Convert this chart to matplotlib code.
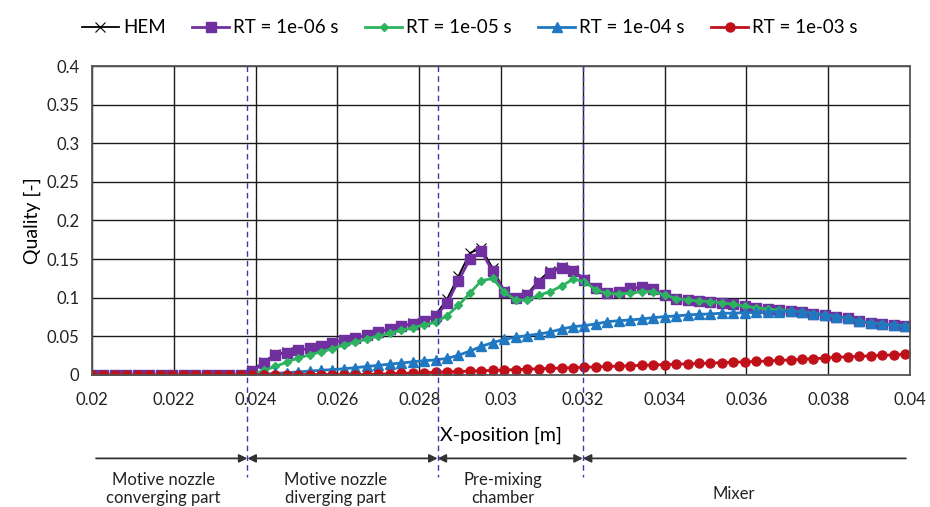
import matplotlib
matplotlib.use("Agg")
import matplotlib.pyplot as plt
import matplotlib.transforms as mtransforms

plt.rcParams['font.family'] = ['Lato', 'DejaVu Sans']

# x positions along the ejector [m]
x_pos = [0.02000, 0.02028, 0.02056, 0.02084, 0.02112, 0.02140, 0.02168, 0.02196,
         0.02224, 0.02252, 0.02280, 0.02308, 0.02336, 0.02364, 0.02392, 0.02420,
         0.02448, 0.02476, 0.02504, 0.02532, 0.02560, 0.02588, 0.02616, 0.02644,
         0.02672, 0.02700, 0.02728, 0.02756, 0.02784, 0.02812, 0.02840, 0.02868,
         0.02896, 0.02924, 0.02952, 0.02980, 0.03008, 0.03036, 0.03064, 0.03092,
         0.03120, 0.03148, 0.03176, 0.03204, 0.03232, 0.03260, 0.03288, 0.03316,
         0.03344, 0.03372, 0.03400, 0.03428, 0.03456, 0.03484, 0.03512, 0.03540,
         0.03568, 0.03596, 0.03624, 0.03652, 0.03680, 0.03708, 0.03736, 0.03764,
         0.03792, 0.03820, 0.03848, 0.03876, 0.03904, 0.03932, 0.03960, 0.03988]

q_hem = [0, 0, 0, 0, 0, 0, 0, 0, 0, 0, 0, 0, 0, 0, 0.006, 0.017,
         0.027, 0.030, 0.032, 0.035, 0.038, 0.042, 0.045, 0.048,
         0.052, 0.056, 0.060, 0.063, 0.067, 0.070, 0.078, 0.098,
         0.128, 0.158, 0.164, 0.138, 0.109, 0.100, 0.105, 0.122,
         0.135, 0.140, 0.136, 0.124, 0.112, 0.106, 0.107, 0.112,
         0.114, 0.111, 0.104, 0.099, 0.097, 0.096, 0.095, 0.0935,
         0.0915, 0.089, 0.087, 0.0855, 0.084, 0.0828, 0.0815, 0.0795,
         0.078, 0.0755, 0.0733, 0.0695, 0.0675, 0.066, 0.0645, 0.063]

q_rt6 = [0, 0, 0, 0, 0, 0, 0, 0, 0, 0, 0, 0, 0, 0, 0.005, 0.016,
         0.026, 0.029, 0.0318, 0.0345, 0.0375, 0.042, 0.045, 0.048,
         0.0515, 0.0555, 0.060, 0.063, 0.0665, 0.0695, 0.076, 0.093,
         0.122, 0.150, 0.160, 0.134, 0.108, 0.100, 0.103, 0.119,
         0.132, 0.139, 0.135, 0.123, 0.112, 0.106, 0.107, 0.112,
         0.114, 0.111, 0.104, 0.099, 0.097, 0.096, 0.095, 0.0935,
         0.0915, 0.089, 0.087, 0.0855, 0.084, 0.0828, 0.0815, 0.0795,
         0.078, 0.0755, 0.0733, 0.0695, 0.0675, 0.066, 0.0645, 0.063]

q_rt5 = [0, 0, 0, 0, 0, 0, 0, 0, 0, 0, 0, 0, 0, 0, 0, 0.006,
         0.011, 0.0165, 0.022, 0.026, 0.030, 0.034, 0.039, 0.0425,
         0.0467, 0.0505, 0.054, 0.058, 0.061, 0.065, 0.068, 0.077,
         0.090, 0.106, 0.122, 0.125, 0.107, 0.097, 0.097, 0.103,
         0.108, 0.115, 0.124, 0.121, 0.110, 0.1055, 0.105, 0.106,
         0.108, 0.108, 0.1035, 0.099, 0.097, 0.096, 0.095, 0.0935,
         0.0915, 0.089, 0.087, 0.0855, 0.084, 0.0828, 0.0815, 0.0795,
         0.078, 0.0755, 0.0733, 0.0695, 0.0675, 0.066, 0.0645, 0.063]

q_rt4 = [0, 0, 0, 0, 0, 0, 0, 0, 0, 0, 0, 0, 0, 0, 0, 0.001,
         0.002, 0.003, 0.004, 0.005, 0.006, 0.007, 0.008, 0.0095,
         0.011, 0.0125, 0.014, 0.0155, 0.017, 0.0185, 0.0195, 0.0215,
         0.0255, 0.031, 0.037, 0.042, 0.046, 0.049, 0.051, 0.053,
         0.0555, 0.0595, 0.0625, 0.064, 0.066, 0.069, 0.0703, 0.0712,
         0.0725, 0.0742, 0.0755, 0.0764, 0.0777, 0.0786, 0.079, 0.080,
         0.080, 0.0807, 0.081, 0.0815, 0.082, 0.0825, 0.0815, 0.0795,
         0.078, 0.0755, 0.0733, 0.0695, 0.0675, 0.066, 0.0645, 0.063]

q_rt3 = [0, 0, 0, 0, 0, 0, 0, 0, 0, 0, 0, 0, 0, 0, 0, 0,
         0, 0, 0.0005, 0.0005, 0.0005, 0.0005, 0.0005, 0.0005,
         0.0005, 0.001, 0.0015, 0.002, 0.0025, 0.003, 0.0035, 0.004,
         0.0045, 0.005, 0.0055, 0.006, 0.0065, 0.007, 0.0075, 0.008,
         0.0085, 0.009, 0.0095, 0.010, 0.0105, 0.011, 0.0115, 0.012,
         0.0125, 0.013, 0.0135, 0.014, 0.0145, 0.015, 0.0155, 0.016,
         0.0165, 0.017, 0.0175, 0.018, 0.019, 0.0195, 0.0205, 0.021,
         0.022, 0.023, 0.0235, 0.024, 0.025, 0.0255, 0.026, 0.027]

x_ticks = [0.02, 0.022, 0.024, 0.026, 0.028, 0.03, 0.032, 0.034, 0.036, 0.038, 0.04]
x_tick_labels = ['0.02', '0.022', '0.024', '0.026', '0.028', '0.03', '0.032',
                 '0.034', '0.036', '0.038', '0.04']
y_ticks = [0, 0.05, 0.1, 0.15, 0.2, 0.25, 0.3, 0.35, 0.4]
y_tick_labels = ['0', '0.05', '0.1', '0.15', '0.2', '0.25', '0.3', '0.35', '0.4']

# section boundaries and names
bounds = [0.02, 0.0238, 0.02845, 0.0320, 0.04]
section_names = ['Motive nozzle\nconverging part', 'Motive nozzle\ndiverging part',
                 'Pre-mixing\nchamber', 'Mixer']

fig = plt.figure(figsize=(9.3, 5.07), dpi=100)
ax = fig.add_axes([0.0989, 0.2604, 0.8796, 0.6094])

ax.plot(x_pos, q_hem, color='black', lw=1.3, marker='x', ms=7, mew=0.8, label='HEM')
ax.plot(x_pos, q_rt6, color='#7030A0', lw=2, marker='s', ms=6.5, label='RT = 1e-06 s')
ax.plot(x_pos, q_rt5, color='#2DB35F', lw=2, marker='D', ms=4, label='RT = 1e-05 s')
ax.plot(x_pos, q_rt4, color='#1F78C1', lw=2, marker='^', ms=6.5, label='RT = 1e-04 s')
ax.plot(x_pos, q_rt3, color='#C0101A', lw=2, marker='o', ms=6.5, label='RT = 1e-03 s')

ax.set_xlim(0.02, 0.04)
ax.set_ylim(0, 0.4)
ax.set_xticks(x_ticks)
ax.set_xticklabels(x_tick_labels)
ax.set_yticks(y_ticks)
ax.set_yticklabels(y_tick_labels)
ax.tick_params(length=0, labelsize=12, colors='#222222')
ax.tick_params(axis='x', pad=12)
ax.tick_params(axis='y', pad=9)
ax.grid(True, color='#1a1a1a', lw=1)
ax.set_axisbelow(True)
for s in ax.spines.values():
    s.set_color('#555555')
    s.set_linewidth(1.3)

ax.set_xlabel('X-position [m]', fontsize=14, labelpad=14)
ax.set_ylabel('Quality [-]', fontsize=14, labelpad=4)

# section boundaries as dashed lines running below the axes
trans = mtransforms.blended_transform_factory(ax.transData, ax.transAxes)
for b in bounds[1:-1]:
    ax.plot([b, b], [1, -0.33], transform=trans, color='#3A3AB0', ls=(0, (4, 3)),
            lw=1, clip_on=False, zorder=5)

# arrow line with section labels
y_arr = -0.27
arrow_props = dict(arrowstyle='-|>', color='#333333', lw=1.3, mutation_scale=12,
                   shrinkA=0, shrinkB=0)
ax.annotate('', xy=(bounds[1], y_arr), xytext=(0.0201, y_arr), xycoords=trans,
            textcoords=trans, arrowprops=arrow_props, annotation_clip=False)
for a, b in [(bounds[1], bounds[2]), (bounds[2], bounds[3])]:
    ax.annotate('', xy=(b, y_arr), xytext=(a, y_arr), xycoords=trans,
                textcoords=trans, arrowprops=dict(arrow_props, arrowstyle='<|-|>'),
                annotation_clip=False)
ax.annotate('', xy=(bounds[3], y_arr), xytext=(0.0399, y_arr), xycoords=trans,
            textcoords=trans, arrowprops=arrow_props, annotation_clip=False)

label_x = [0.02175, 0.02595, 0.03005, 0.0357]
label_y = [-0.37, -0.37, -0.37, -0.385]
for lx, ly, name in zip(label_x, label_y, section_names):
    ax.text(lx, ly, name, transform=trans, ha='center', va='center', fontsize=12,
            color='#222222', linespacing=1.15)

fig.legend(loc='upper center', bbox_to_anchor=(0.505, 0.995), ncol=5, frameon=False,
           fontsize=13.5, handlelength=2, handletextpad=0.2, columnspacing=1.4)

fig.savefig('out.png', dpi=100)
